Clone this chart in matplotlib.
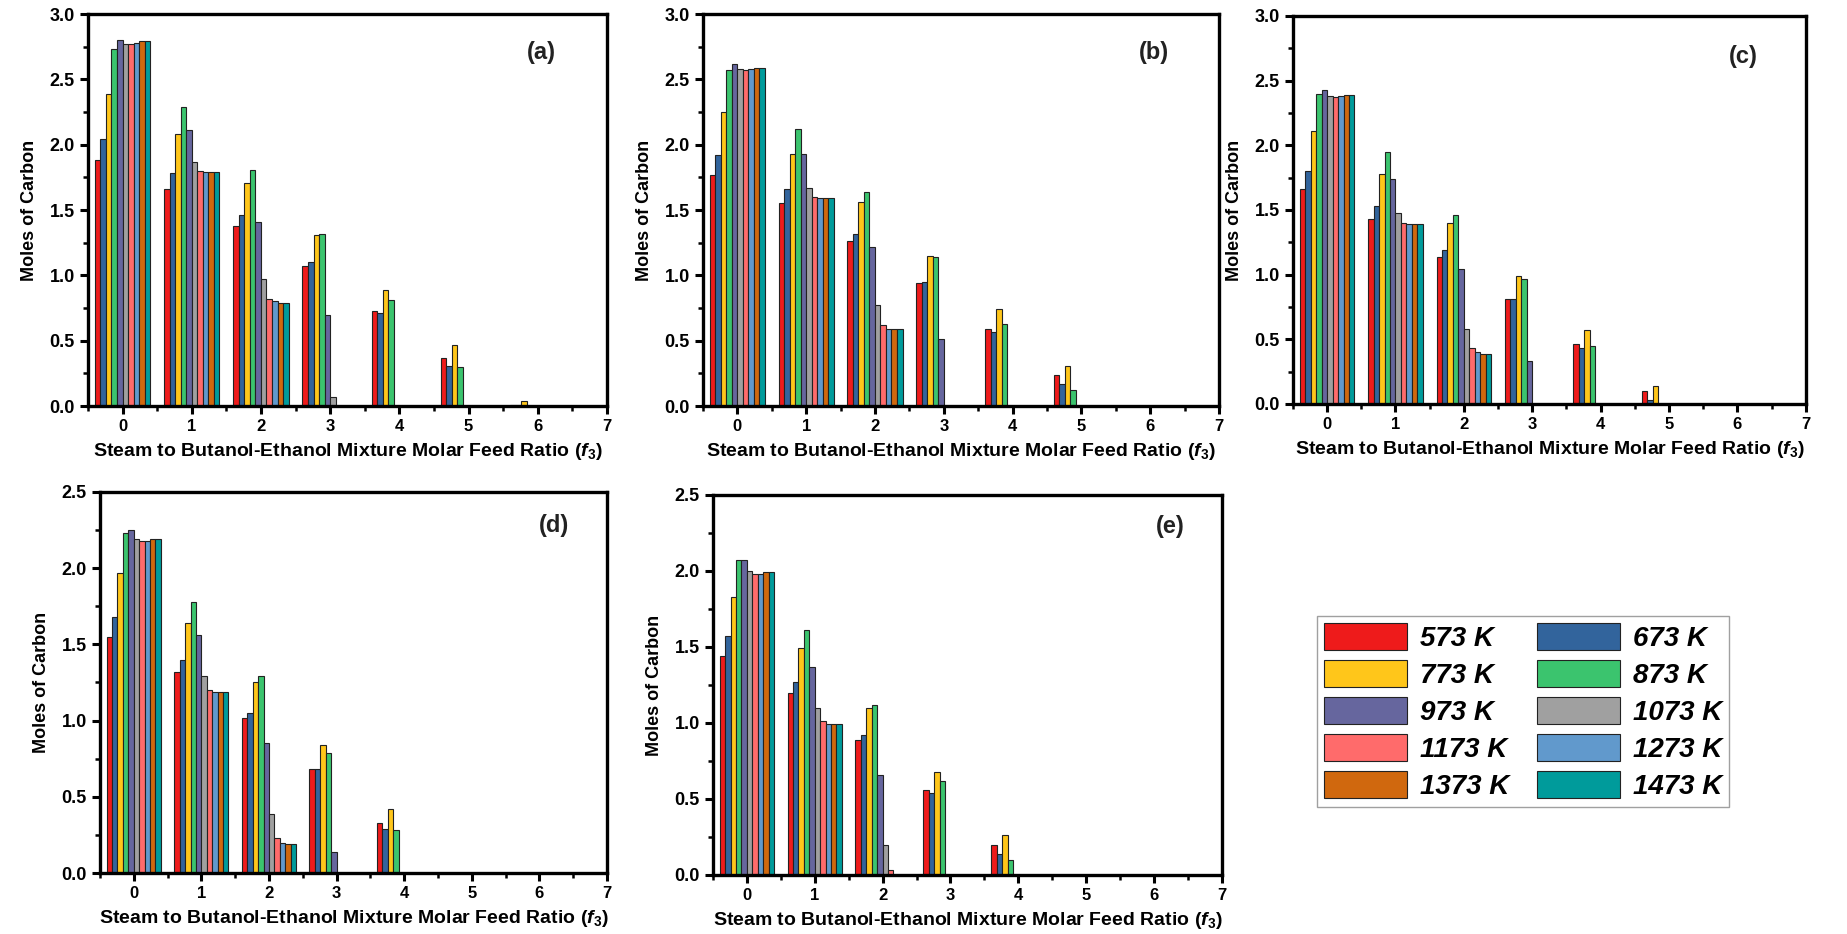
import numpy as np
import matplotlib
matplotlib.use("Agg")
import matplotlib.pyplot as plt
from matplotlib.ticker import MultipleLocator, FormatStrFormatter

plt.rcParams['font.family'] = ['Liberation Sans', 'DejaVu Sans']
plt.rcParams['font.weight'] = 'bold'
plt.rcParams['mathtext.fontset'] = 'custom'
plt.rcParams['mathtext.it'] = 'Liberation Sans:bold:italic'
plt.rcParams['mathtext.rm'] = 'Liberation Sans:bold'

# feed ratios (f3) and temperatures
ratios = [0, 1, 2, 3, 4, 5, 6, 7]
temps = ["573 K", "673 K", "773 K", "873 K", "973 K",
         "1073 K", "1173 K", "1273 K", "1373 K", "1473 K"]
colors = ["#EE1B1B", "#32649C", "#FFC61A", "#3BC46E", "#66669E",
          "#A0A0A0", "#FF6B6B", "#6199CC", "#D0680E", "#009B9B"]

# moles of carbon, one row per temperature, one value per feed ratio
moles_a = [
    [1.88, 1.66, 1.38, 1.07, 0.73, 0.37, 0.01, 0],
    [2.04, 1.78, 1.46, 1.10, 0.71, 0.31, 0.005, 0],
    [2.39, 2.08, 1.71, 1.31, 0.89, 0.47, 0.04, 0],
    [2.73, 2.29, 1.81, 1.32, 0.81, 0.30, 0, 0],
    [2.80, 2.11, 1.41, 0.70, 0, 0, 0, 0],
    [2.77, 1.87, 0.97, 0.07, 0, 0, 0, 0],
    [2.77, 1.80, 0.82, 0, 0, 0, 0, 0],
    [2.78, 1.79, 0.80, 0, 0, 0, 0, 0],
    [2.79, 1.79, 0.79, 0, 0, 0, 0, 0],
    [2.79, 1.79, 0.79, 0, 0, 0, 0, 0],
]
moles_b = [
    [1.77, 1.55, 1.26, 0.94, 0.59, 0.24, 0, 0],
    [1.92, 1.66, 1.32, 0.95, 0.57, 0.17, 0, 0],
    [2.25, 1.93, 1.56, 1.15, 0.74, 0.31, 0, 0],
    [2.57, 2.12, 1.64, 1.14, 0.63, 0.12, 0, 0],
    [2.62, 1.93, 1.22, 0.51, 0, 0, 0, 0],
    [2.58, 1.67, 0.77, 0, 0, 0, 0, 0],
    [2.57, 1.60, 0.62, 0, 0, 0, 0, 0],
    [2.58, 1.59, 0.59, 0, 0, 0, 0, 0],
    [2.59, 1.59, 0.59, 0, 0, 0, 0, 0],
    [2.59, 1.59, 0.59, 0, 0, 0, 0, 0],
]
moles_c = [
    [1.66, 1.43, 1.14, 0.81, 0.46, 0.10, 0, 0],
    [1.80, 1.53, 1.19, 0.81, 0.43, 0.03, 0, 0],
    [2.11, 1.78, 1.40, 0.99, 0.57, 0.14, 0, 0],
    [2.40, 1.95, 1.46, 0.97, 0.45, 0, 0, 0],
    [2.43, 1.74, 1.04, 0.33, 0, 0, 0, 0],
    [2.38, 1.48, 0.58, 0, 0, 0, 0, 0],
    [2.37, 1.40, 0.43, 0, 0, 0, 0, 0],
    [2.38, 1.39, 0.40, 0, 0, 0, 0, 0],
    [2.39, 1.39, 0.39, 0, 0, 0, 0, 0],
    [2.39, 1.39, 0.39, 0, 0, 0, 0, 0],
]
moles_d = [
    [1.55, 1.32, 1.02, 0.68, 0.33, 0, 0, 0],
    [1.68, 1.40, 1.05, 0.68, 0.29, 0, 0, 0],
    [1.97, 1.64, 1.25, 0.84, 0.42, 0, 0, 0],
    [2.23, 1.78, 1.29, 0.79, 0.28, 0, 0, 0],
    [2.25, 1.56, 0.85, 0.14, 0, 0, 0, 0],
    [2.19, 1.29, 0.39, 0, 0, 0, 0, 0],
    [2.18, 1.20, 0.23, 0, 0, 0, 0, 0],
    [2.18, 1.19, 0.20, 0, 0, 0, 0, 0],
    [2.19, 1.19, 0.19, 0, 0, 0, 0, 0],
    [2.19, 1.19, 0.19, 0, 0, 0, 0, 0],
]
moles_e = [
    [1.44, 1.20, 0.89, 0.56, 0.20, 0, 0, 0],
    [1.57, 1.27, 0.92, 0.54, 0.14, 0, 0, 0],
    [1.83, 1.49, 1.10, 0.68, 0.26, 0, 0, 0],
    [2.07, 1.61, 1.12, 0.62, 0.10, 0, 0, 0],
    [2.07, 1.37, 0.66, 0, 0, 0, 0, 0],
    [2.00, 1.10, 0.20, 0, 0, 0, 0, 0],
    [1.98, 1.01, 0.03, 0, 0, 0, 0, 0],
    [1.98, 0.99, 0, 0, 0, 0, 0, 0],
    [1.99, 0.99, 0, 0, 0, 0, 0, 0],
    [1.99, 0.99, 0, 0, 0, 0, 0, 0],
]

panels = [
    ("(a)", moles_a, 3.0, [0.0476, 0.5653, 0.281, 0.4197], (0.873, 0.903)),
    ("(b)", moles_b, 3.0, [0.3806, 0.5653, 0.2794, 0.4197], (0.874, 0.903)),
    ("(c)", moles_c, 3.0, [0.700, 0.5675, 0.2777, 0.4154], (0.878, 0.896)),
    ("(d)", moles_d, 2.5, [0.0541, 0.0653, 0.2745, 0.408], (0.895, 0.913)),
    ("(e)", moles_e, 2.5, [0.386, 0.0632, 0.2756, 0.4069], (0.898, 0.918)),
]

fig = plt.figure(figsize=(18.47, 9.34), dpi=100)
width = 0.08
x = np.array(ratios, dtype=float)

for tag, data, ymax, pos, tagpos in panels:
    ax = fig.add_axes(pos)
    handles = []
    for i, row in enumerate(data):
        b = ax.bar(x + (i - 4.5) * width, row, width, color=colors[i],
                   edgecolor="#222222", linewidth=0.8, label=temps[i])
        handles.append(b)
    ax.set_xlim(-0.5, 7)
    ax.set_ylim(0, ymax)
    ax.xaxis.set_major_locator(MultipleLocator(1))
    ax.xaxis.set_minor_locator(MultipleLocator(0.5))
    ax.yaxis.set_major_locator(MultipleLocator(0.5))
    ax.yaxis.set_minor_locator(MultipleLocator(0.25))
    ax.yaxis.set_major_formatter(FormatStrFormatter("%.1f"))
    ax.tick_params(which="major", direction="out", length=6, width=2.2)
    ax.tick_params(which="minor", direction="out", length=3.5, width=1.8)
    ax.tick_params(axis="y", labelsize=13)
    ax.tick_params(axis="x", labelsize=12)
    for s in ax.spines.values():
        s.set_linewidth(2.4)
    ax.set_ylabel("Moles of Carbon", fontsize=13, fontweight="bold", labelpad=8)
    ax.set_xlabel(r"Steam to Butanol-Ethanol Mixture Molar Feed Ratio ($f_3$)",
                  fontsize=14, fontweight="bold", labelpad=5)
    ax.text(tagpos[0], tagpos[1], tag, transform=ax.transAxes, fontsize=17,
            fontweight="bold", ha="center", va="center", color="#222222")

# legend filled row by row: (573, 673), (773, 873), ...
order = [0, 2, 4, 6, 8, 1, 3, 5, 7, 9]
fig.legend([handles[k] for k in order], [temps[k] for k in order], ncol=2,
           loc="upper left", bbox_to_anchor=(1317 / 1847, 1 - 616 / 934),
           prop={"size": 20, "weight": "bold", "style": "italic"},
           frameon=True, fancybox=False, edgecolor="#888888",
           handlelength=3.0, handleheight=1.1, labelspacing=0.3,
           columnspacing=1.0, handletextpad=0.45, borderpad=0.25,
           borderaxespad=0)

fig.savefig("out.png", dpi=100, facecolor="white")
